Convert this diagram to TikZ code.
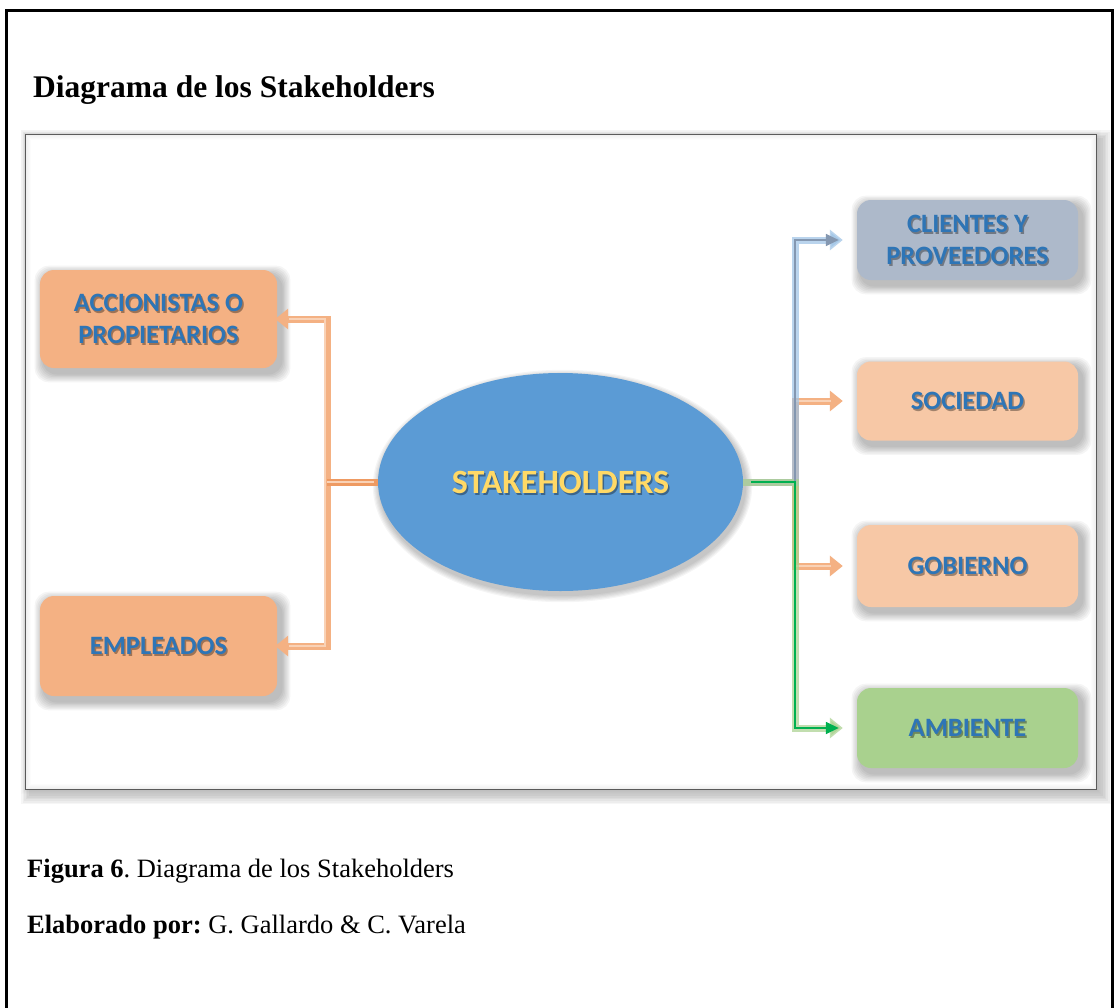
\documentclass[tikz,border=0pt]{standalone}
\usepackage{fontspec}
\setmainfont{Liberation Serif}
\newfontfamily\carlito{Carlito}
\usetikzlibrary{shapes.geometric,arrows.meta}
\pgfdeclarelayer{framelayer}
\pgfdeclarelayer{shadowlayer}
\pgfsetlayers{framelayer,shadowlayer,main}
\frenchspacing
\definecolor{boxor}{HTML}{F4B183}
\definecolor{boxlor}{HTML}{F7C8A6}
\definecolor{boxgray}{HTML}{ADB9CA}
\definecolor{boxgreen}{HTML}{A9D18E}
\definecolor{ellblue}{HTML}{5B9BD5}
\definecolor{txtblue}{HTML}{2E75B6}
\definecolor{txtyellow}{HTML}{FFD966}
\definecolor{conor}{HTML}{F4B183}
\definecolor{conorlight}{HTML}{F9D2B6}
\definecolor{conordark}{HTML}{EE9A62}
\definecolor{conblue}{HTML}{9DC3E6}
\definecolor{conslate}{HTML}{8497B0}
\definecolor{congreen}{HTML}{A9D18E}
\definecolor{congreendark}{HTML}{00B050}
\definecolor{framegray}{HTML}{5A5A5A}
\tikzset{
  boxshape/.style={draw=none, rounded corners=14bp, inner sep=0pt},
  boxtext/.style={align=center, inner sep=0pt,
    font=\carlito\bfseries\fontsize{26.5bp}{31.5bp}\selectfont, text=txtblue},
  boxtextshadow/.style={boxtext, text=black, opacity=0.35},
  wide/.style={line width=7bp, -{Triangle[length=13bp,width=20bp]}},
  thin/.style={line width=1.6bp},
  plain/.style={anchor=base west, inner sep=0pt}
}
\newcommand\stakebox[6]{%
  \node[boxshape, fill=#5, minimum width=#3, minimum height=#4] (#1) at #2 {};
  \node[boxtextshadow] at ([shift={(1.5,2)}]#1.center) {#6};
  \node[boxtext] (#1-t) at (#1.center) {#6};
  \begin{pgfonlayer}{shadowlayer}
    \foreach \k in {1,...,7}{%
      \pgfmathsetmacro\s{\k*1.3}
      \fill[black, opacity=0.04, rounded corners=14bp]
        ([shift={(4-\s,5-\s)}]#1.north west) rectangle ([shift={(4+\s,5+\s)}]#1.south east);
    }
  \end{pgfonlayer}
}
\begin{document}
\begin{tikzpicture}[x=1bp,y=-1bp]
\useasboundingbox (0,0) rectangle (1115,1008);
\begin{pgfonlayer}{framelayer}
\fill[white] (0,0) rectangle (1115,1008);
\foreach \k in {1,...,6}{%
  \pgfmathsetmacro\s{\k*1.6}
  \fill[black, opacity=0.035] (25.5+5-\s,134.5+5-\s) rectangle (1096.5+5+\s,789.5+5+\s);
}
\fill[white] (25.5,134.5) rectangle (1096.5,789.5);
\foreach \k in {1,...,5}{%
  \draw[black, opacity=0.012, line width=\k*2bp] (26,135) rectangle (1096,789);
}
\end{pgfonlayer}
% outer frame
\draw[line width=2.6bp, black] (6.5,1012) -- (6.5,10.5) -- (1112.5,10.5) -- (1112.5,1012);
% title
\node[plain, font=\bfseries\fontsize{31.5bp}{38bp}\selectfont] (title) at (33,97) {Diagrama de los Stakeholders};
% inner frame
\node[draw=framegray, line width=1.3bp, minimum width=1071bp, minimum height=655bp, inner sep=0pt] (frame) at (561,462) {};
% central ellipse
\begin{pgfonlayer}{shadowlayer}
\foreach \k in {1,...,6}{%
  \pgfmathsetmacro\s{\k*1.2}
  \fill[black, opacity=0.04] (562.5,486) ellipse [x radius=182.5+\s, y radius=109+\s];
}
\end{pgfonlayer}
\node[ellipse, fill=ellblue, minimum width=365bp, minimum height=218bp, inner sep=0pt] (sh) at (560.5,482) {};
\node[font=\carlito\bfseries\fontsize{34bp}{40bp}\selectfont, text=black, opacity=0.35, inner sep=0pt] at ([shift={(1.5,2)}]sh.center) {STAKEHOLDERS};
\node[font=\carlito\bfseries\fontsize{34bp}{40bp}\selectfont, text=txtyellow, inner sep=0pt] (sh-t) at (sh.center) {STAKEHOLDERS};
% boxes
\stakebox{acc}{(158.5,319)}{237bp}{98bp}{boxor}{ACCIONISTAS O\\PROPIETARIOS}
\stakebox{emp}{(158.5,646)}{237bp}{100bp}{boxor}{EMPLEADOS}
\stakebox{cli}{(967.5,240)}{221bp}{80bp}{boxgray}{CLIENTES Y\\PROVEEDORES}
\stakebox{soc}{(967.5,401)}{221bp}{79bp}{boxlor}{SOCIEDAD}
\stakebox{gob}{(967.5,566)}{221bp}{82bp}{boxlor}{GOBIERNO}
\stakebox{amb}{(967.5,728)}{221bp}{80bp}{boxgreen}{AMBIENTE}
% junctions
\coordinate (jl) at (327,482);
\coordinate (jr) at (795,482);
% left connectors
\draw[wide, conor, shorten >=-2bp] (jl) |- (acc.east);
\draw[wide, conor, shorten >=-2bp] (jl) |- (emp.east);
\draw[thin, conorlight] ([xshift=-2bp]jl) |- ([xshift=12bp]acc.east);
\draw[thin, conorlight] ([xshift=-2bp]jl) |- ([xshift=12bp]emp.east);
\draw[line width=7bp, conordark] (sh.west) -- (jl);
\draw[thin, conorlight] ([xshift=-4bp]sh.west) -- (jl);
% right connectors
\draw[wide, conor, shorten >=14bp] (sh.east) -- (jr) |- (soc.west);
\draw[wide, conor, shorten >=14bp] (sh.east) -- (jr) |- (gob.west);
\draw[thin, conorlight] (jr) |- ([xshift=-26bp]soc.west);
\draw[thin, conorlight] (jr) |- ([xshift=-26bp]gob.west);
\draw[wide, conblue, opacity=0.7, shorten >=14bp] (sh.east) -- (jr) |- (cli.west);
\draw[wide, congreen, opacity=0.7, shorten >=14bp] (sh.east) -- (jr) |- (amb.west);
\draw[thin, conslate, -{Triangle[length=13bp,width=12bp]}, shorten >=18bp] (jr) |- (cli.west);
\draw[thin, congreendark, -{Triangle[length=13bp,width=12bp]}, shorten >=18bp] ([xshift=-44bp]jr) -- (jr) |- (amb.west);
% caption
\node[plain, font=\fontsize{26.5bp}{32bp}\selectfont] (fig) at (27,877) {\textbf{Figura 6}. Diagrama de los Stakeholders};
\node[plain, font=\fontsize{26.5bp}{32bp}\selectfont] (elab) at (27,933) {\textbf{Elaborado por:} G. Gallardo \& C. Varela};
\end{tikzpicture}
\end{document}
